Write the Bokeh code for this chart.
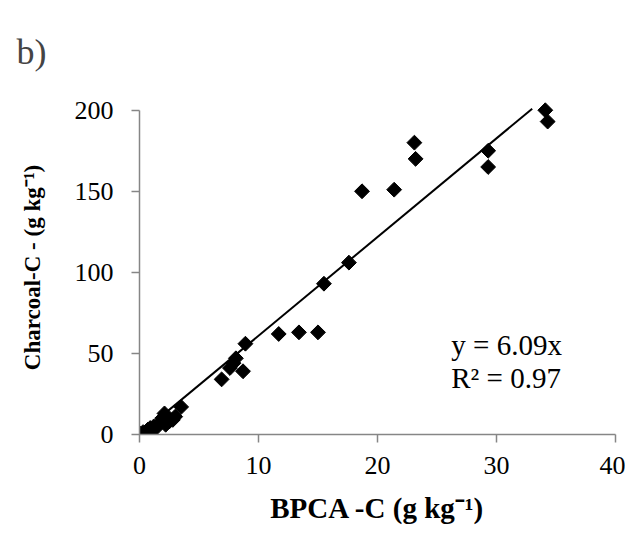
import math
from bokeh.plotting import figure
from bokeh.models import Range1d, Label, FixedTicker, ColumnDataSource
from bokeh.embed import file_html
from bokeh.resources import INLINE

# Data: BPCA-C (x) vs Charcoal-C (y), g kg-1
bpca_c = [0.1, 0.3, 0.5, 0.7, 0.9, 1.0, 1.2, 1.4, 1.7, 1.9, 2.1, 2.2, 2.5, 2.8, 3.0, 3.5,
          6.9, 7.6, 7.9, 8.1, 8.7, 8.9, 11.7, 13.4, 15.0, 15.5, 17.6,
          18.7, 21.4, 23.1, 23.2, 29.3, 29.3, 34.1, 34.3]
charcoal_c = [0.5, 1.5, 1.0, 3.0, 4.0, 2.0, 5.0, 4.0, 7.0, 10.0, 13.0, 6.0, 8.0, 9.0, 11.0, 17.0,
              34.0, 41.0, 44.0, 47.0, 39.0, 56.0, 62.0, 63.0, 63.0, 93.0, 106.0,
              150.0, 151.0, 180.0, 170.0, 175.0, 165.0, 200.0, 193.0]

slope = 6.09
trend_x = [0, 33]
trend_y = [slope * v for v in trend_x]

x_ticks = [0, 10, 20, 30, 40]
y_ticks = [0, 50, 100, 150, 200]

SERIF = "Liberation Serif"
AXIS_GREY = "#868686"

p = figure(width=625, height=527, output_backend="svg", toolbar_location=None,
           x_range=Range1d(0, 40), y_range=Range1d(0, 206),
           min_border_left=139, min_border_right=10, min_border_top=100, min_border_bottom=93)
p.outline_line_color = None
p.xgrid.grid_line_color = None
p.ygrid.grid_line_color = None
p.background_fill_color = "white"
p.border_fill_color = "white"

p.title.text = "b)"
p.title.text_font = SERIF
p.title.text_font_size = "36px"
p.title.text_font_style = "normal"
p.title.text_line_height = 2.64
p.title.align = "left"
p.title.offset = -123
p.title.standoff = 58

for ax, ticks in ((p.xaxis, x_ticks), (p.yaxis, y_ticks)):
    ax.ticker = FixedTicker(ticks=ticks)
    ax.axis_line_color = AXIS_GREY
    ax.axis_line_width = 1.5
    ax.major_tick_line_color = AXIS_GREY
    ax.major_tick_line_width = 1.5
    ax.major_tick_in = 0
    ax.major_tick_out = 8
    ax.minor_tick_line_color = None
    ax.major_label_text_font = SERIF
    ax.major_label_text_font_size = "26px"
    ax.major_label_text_color = "black"
    ax.axis_label_text_font = SERIF
    ax.axis_label_text_font_style = "bold"
    ax.axis_label_text_color = "black"

p.yaxis.bounds = (0, 200)
p.xaxis.axis_label = "BPCA -C (g kg⁻¹)"
p.yaxis.axis_label = "Charcoal-C - (g kg⁻¹)"
p.xaxis.axis_label_text_font_size = "29px"
p.yaxis.axis_label_text_font_size = "23px"
p.xaxis.major_label_standoff = 14
p.yaxis.major_label_standoff = 18
p.xaxis.axis_label_standoff = 15
p.yaxis.axis_label_standoff = 27

p.line(trend_x, trend_y, line_color="black", line_width=2)

src = ColumnDataSource(dict(x=bpca_c, y=charcoal_c))
p.scatter("x", "y", source=src, marker="square", angle=math.pi / 4, size=10.5,
          fill_color="black", line_color="black")

eq1 = Label(x=26.2, y=55, text="y = 6.09x", text_font=SERIF, text_font_size="29px",
            text_color="black", text_baseline="alphabetic")
eq2 = Label(x=26.2, y=35, text="R² = 0.97", text_font=SERIF, text_font_size="29px",
            text_color="black", text_baseline="alphabetic")
for lab in (eq1, eq2):
    p.add_layout(lab)

open("out.html", "w").write(file_html(p, INLINE))
